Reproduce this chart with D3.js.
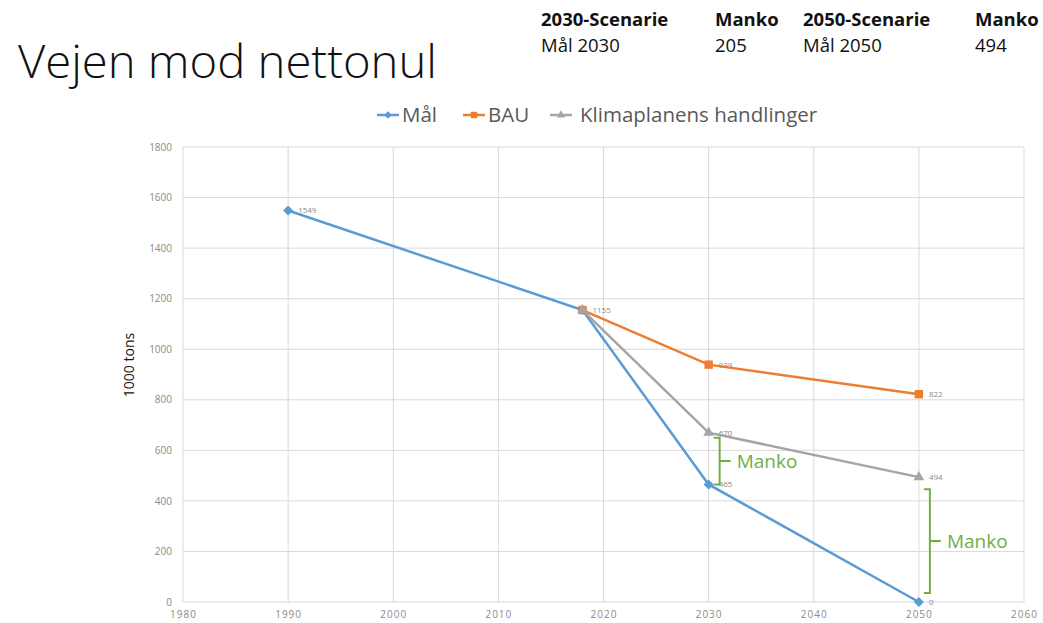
<!DOCTYPE html>
<html><head><meta charset="utf-8">
<script src="https://cdn.jsdelivr.net/npm/d3@7"></script>
<style>body{margin:0;background:#fff}svg{display:block}</style>
</head><body>
<svg id="c" width="1043" height="623"></svg>
<script>
const years = [1990, 2018, 2030, 2050];
const seriesNames = ["Mål", "BAU", "Klimaplanens handlinger"];
const malData = [{x:1990,y:1549},{x:2018,y:1155},{x:2030,y:465},{x:2050,y:0}];
const bauData = [{x:2018,y:1155},{x:2030,y:939},{x:2050,y:822}];
const klimaData = [{x:2018,y:1155},{x:2030,y:670},{x:2050,y:494}];
const xTicks = [1980,1990,2000,2010,2020,2030,2040,2050,2060];
const yTicks = [0,200,400,600,800,1000,1200,1400,1600,1800];
const headerCols = [["2030-Scenarie","Mål 2030"],["Manko","205"],["2050-Scenarie","Mål 2050"],["Manko","494"]];
const mankoGaps = [{x:2030,top:670,bottom:465},{x:2050,top:494,bottom:0}];

const svg = d3.select("#c");
const x = d3.scaleLinear().domain([1980,2060]).range([183,1024]);
const y = d3.scaleLinear().domain([0,1800]).range([602,147]);
const font = "'Open Sans', 'Noto Sans', sans-serif";

// title
svg.append("text").attr("x",18).attr("y",78).text("Vejen mod nettonul")
  .attr("font-family",font).attr("font-size",46).attr("font-weight",300).attr("fill","#111")
  .attr("textLength",419).attr("lengthAdjust","spacingAndGlyphs");

// header table
const colX = [541,715,803,975];
headerCols.forEach((c,i)=>{
  svg.append("text").attr("x",colX[i]).attr("y",26).text(c[0]).attr("font-family",font)
    .attr("font-size",18.5).attr("font-weight",700).attr("fill","#111");
  svg.append("text").attr("x",colX[i]).attr("y",52).text(c[1]).attr("font-family",font)
    .attr("font-size",18.5).attr("fill","#111");
});

// grid
const g = svg.append("g");
g.selectAll("line.h").data(yTicks).join("line").attr("x1",x(1980)).attr("x2",x(2060))
  .attr("y1",d=>y(d)).attr("y2",d=>y(d)).attr("stroke","#d9d9d9").attr("stroke-width",1);
g.selectAll("line.v").data(xTicks).join("line").attr("y1",y(0)).attr("y2",y(1800))
  .attr("x1",d=>x(d)).attr("x2",d=>x(d)).attr("stroke","#d9d9d9").attr("stroke-width",1);

// axes
const yAxis = svg.append("g").attr("transform",`translate(${x(1980)},0)`)
  .call(d3.axisLeft(y).tickValues(yTicks).tickFormat(d3.format("d")).tickSize(0).tickPadding(11));
const xAxis = svg.append("g").attr("transform",`translate(0,${y(0)})`)
  .call(d3.axisBottom(x).tickValues(xTicks).tickFormat(d3.format("d")).tickSize(0).tickPadding(9));
[yAxis,xAxis].forEach(a=>{a.select(".domain").remove();
  a.selectAll("text").attr("font-family",font).attr("font-size",10).attr("fill","#8a8a8a");});
xAxis.selectAll("text").attr("letter-spacing",1);

svg.append("text").attr("transform",`translate(134,365) rotate(-90)`).attr("text-anchor","middle")
  .text("1000 tons").attr("font-family",font).attr("font-size",14).attr("fill","#111");

// series
const colors = ["#5b9bd5","#ed7d31","#a5a5a5"];
const diamond = {draw(ctx,size){const r=Math.sqrt(size/2);ctx.moveTo(0,-r);ctx.lineTo(r,0);ctx.lineTo(0,r);ctx.lineTo(-r,0);ctx.closePath();}};
const symbols = [diamond, d3.symbolSquare, d3.symbolTriangle];
const sizes = [50, 70, 50];
const datasets = [malData,bauData,klimaData];
const line = d3.line().x(d=>x(d.x)).y(d=>y(d.y));
datasets.forEach((ds,i)=>{
  svg.append("path").datum(ds).attr("d",line).attr("fill","none")
    .attr("stroke",colors[i]).attr("stroke-width",2.5);
});
datasets.forEach((ds,i)=>{
  svg.selectAll(null).data(ds).join("path")
    .attr("transform",d=>`translate(${x(d.x)},${y(d.y)})`)
    .attr("d",d3.symbol(symbols[i],sizes[i])).attr("fill",colors[i]);
});
// data labels
const labels = [malData[0], malData[2], malData[3], bauData[0], bauData[1], bauData[2], klimaData[1], klimaData[2]];
svg.selectAll(null).data(labels).join("text").attr("x",d=>x(d.x)+10).attr("y",d=>y(d.y)+3)
  .text(d=>d.y).attr("font-family",font).attr("font-size",8).attr("fill","#8a8a8a");

// manko brackets
const green = "#70ad47";
const bracketInset = [[5,0],[12,9]];
mankoGaps.forEach((m,i)=>{
  const bx = x(m.x)+11, t = y(m.top)+bracketInset[i][0], b = y(m.bottom)-bracketInset[i][1], mid=(t+b)/2;
  svg.append("path").attr("d",`M${bx-6},${t}H${bx}V${b}H${bx-6}M${bx},${mid}H${bx+11}`)
    .attr("fill","none").attr("stroke",green).attr("stroke-width",2);
  svg.append("text").attr("x",bx+17).attr("y",mid+7).text("Manko").attr("font-family",font)
    .attr("font-size",19).attr("fill",green);
});

// legend
const legX = [377,463,550];
seriesNames.forEach((n,i)=>{
  const lg = svg.append("g").attr("transform",`translate(${legX[i]},115)`);
  lg.append("line").attr("x1",0).attr("x2",22).attr("stroke",colors[i]).attr("stroke-width",2.5);
  lg.append("path").attr("transform","translate(11,0)").attr("d",d3.symbol(symbols[i],sizes[i]*0.6)).attr("fill",colors[i]);
  lg.append("text").attr("x",i===2?30:25).attr("y",7).text(n).attr("font-family",font).attr("font-size",20.5).attr("fill","#595959");
});
</script>
</body></html>
